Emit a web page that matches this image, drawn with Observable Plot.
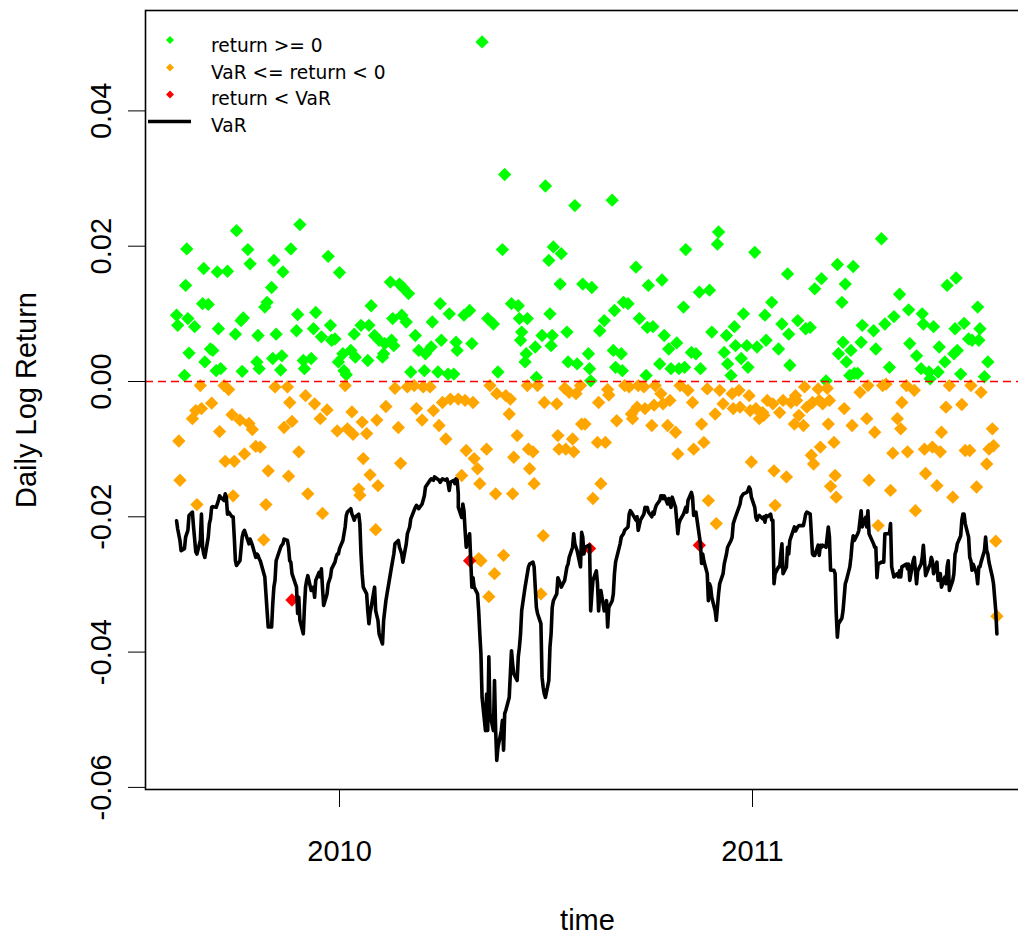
<!DOCTYPE html>
<html><head><meta charset="utf-8">
<script src="https://cdn.jsdelivr.net/npm/d3@7"></script>
<script src="https://cdn.jsdelivr.net/npm/@observablehq/plot@0.6"></script>
<style>html,body{margin:0;padding:0;background:#fff;overflow:hidden;} #chart svg{max-width:none !important;height:934px !important;width:1040px !important;display:block;}</style>
</head><body><div id="chart"></div>
<script>
// ---------- data ----------
const firstDay = "2009-08-10", lastDay = "2011-08-05";
const months = ["2009-08","2009-09","2009-10","2009-11","2009-12","2010-01","2010-02","2010-03","2010-04","2010-05","2010-06","2010-07","2010-08","2010-09","2010-10","2010-11","2010-12","2011-01","2011-02","2011-03","2011-04","2011-05","2011-06","2011-07","2011-08"];

// daily log returns (non-breach), in date order within each month
const returnsByMonth = [
 [.0098,.0083,-.0088,-.0146,.0009,.0142,.0196,.0093,.0042,-.0055,.0081,-.0043,-.0182,-.0006],
 [-.004,.0115,.0167,.0029,.0114,.0048,-.0032,.0046,.0016,.0162,.0078,-.0074,.0019,-.0006,-.0118,.0163,-.0012,-.0049,-.0169,-.0118],
 [.007,.0223,-.0057,.009,.0015,.0094,-.0107,.0195,-.0062,.0174,-.0071,-.0096,.0029,.0068,.0019,-.0097,-.0234,.011,-.0182,.0117,-.0132],
 [.0139,.0034,.0179,-.0008,.007,.0017,.0038,.0162,-.0068,-.0008,-.014,-.0031,.0196,-.0059,.0075,.0099,-.0104,.0232,.0031],
 [.0019,-.0021,-.0166,.0034,.0078,-.0033,.0102,-.0055,.0066,-.0195,-.0042,.0185,.0083,.0061,.0063,-.0073,.0029],
 [.0161,.0041,.0016,-.0006,.001,-.007,.0046,-.0045,-.0078,.007,.0036,-.0159,-.0168,.0083,-.006,-.0114,-.0077,.0031,.0083,-.0138,.0112],
 [.0068,-.0219,-.0057,-.0154,.0061,.0036,.0041,.0056,-.0037,.0147,.0061,.0093,.0053,-.001,-.0068,.0144,-.0121,.0098,.0139],
 [.0088,-.0008,.013,.0014,-.0006,.0068,-.004,.0046,-.0057,-.0008,.0016,.0041,-.0008,.0051,.0088,-.0043,.0014,-.0065,.0115],
 [.0061,-.0031,-.0085,.0011,.01,-.0026,.0011,.0058,.0046,-.0026,-.0139,.0098,-.0028,-.0102,.0105,.0056,-.0031,-.0114],
 [-.0129,-.0262,-.0151,-.0265,.0502,-.01,.0093,-.0318,-.0006,.0085,-.0284,-.0166,-.0018,.0014,.0195,-.0257,.0306,-.0021,-.0048],
 [-.0026,.0115,-.0166,-.0112,-.008,.0112,.0093,.0061,.0073,.0029,.0041,-.0006,.0093,-.01,-.0129,-.0104,-.0151,.0051,.0006,-.0006,-.0314,.0068,-.0228],
 [-.0031,.0289,.0179,.01,.0053,.0068,.0199,-.0033,-.008,-.01,.0144,.0189,-.001,-.01,.0073,.0029,-.0016,-.0085,-.0104,.026,-.0018,.0026],
 [-.0006,-.0063,.0144,-.0063,.0041,.0019,.0001,.0139,-.0173,-.009,-.0031,.0075,-.0151,.009,-.009,-.0012,-.002,.0268,.0046],
 [.0105,.0021,-.0058,.0041,.0016,.0117,-.0006,.0115,-.0008,-.0048,-.0055,.0169,-.0038,-.0006,.0093,-.0008,-.004,.0009,.008],
 [.0142,-.0065,.0081,-.0035,-.0006,.0026,-.0018,.015,-.0033,.0068,-.0065,.0048,-.0028,.0019,-.0075,.0057,-.0107,.0019,-.0006],
 [.011,.0021,.0195,-.0013,.0043,-.0031,-.01,.0041,.0132,.0019,-.0063,-.009,-.0011,-.0176,.0135,.0073,-.0048,-.021],
 [.0203,.0221,-.0013,-.0033,.0043,.0068,.0026,.0009,-.0018,-.004,.0081,.0053,-.0013,-.0038,.0034,.01,.0053,.0021,-.0021,-.0043,-.0119],
 [.0191,-.004,.0051,-.0055,-.0046,-.005,.0098,.0061,-.0028,.0117,-.0033,-.0132,-.0183,.0048,-.0046,.0085,-.0028,-.0141],
 [.0159,.007,.0024,-.0031,-.0063,-.0021,-.0028,.009,-.005,-.0065,-.0008,.0078,-.0038,.008,-.0109,-.0031,-.0122,.0137,-.0011],
 [-.0028,-.0097,.0152,-.0033,.0001,-.001,-.0063,-.0028,-.0155,-.009,-.0139,-.0171,.0173,.0041,.0117,.0058,-.004,.0144,.0029,.0009,.0046,-.0065,.017],
 [.0012,.0012,-.0016,.0058,.0083,-.0055,-.0006,-.0146,.0075,-.0075,.0048,-.0213,.0211,-.0006,.0085,-.0004],
 [.0021,-.0161,-.0106,.0096,-.0055,.0129,-.007,-.0031,-.0006,-.0104,.0106,.0056,-.0013,-.0191,.0038,.0019,.01],
 [.0085,-.01,-.0136,.0014,.0004,-.0097,.0081,-.0154,.0014,.0051,-.0104,-.0075,.0029,-.0038,.0142,-.0006,-.0171,.0041,.0078,.0153],
 [.0046,.0011,-.0034,.0086,-.0102,.0063,-.0102,-.0006,.0061,-.0156,.011,.0061,.0078,-.0016,.0007,-.0122,.0029,-.01],
 [-.007,-.0095,-.0236,-.0347]
];

// Value-at-Risk line, in date order within each month
const varByMonth = [
 [-.0206,-.0218,-.0235,-.025,-.0247,-.023,-.022,-.0198,-.0193,-.0215,-.0252,-.0255,-.0235],
 [-.0196,-.0245,-.0255,-.026,-.023,-.021,-.0203,-.0186,-.0185,-.0186,-.0176,-.0169,-.0171,-.0176,-.0166,-.0171,-.0196,-.0193,-.02,-.02,-.023],
 [-.0265,-.0272,-.0265,-.023,-.0223,-.022,-.0235,-.024,-.0233,-.0242,-.026,-.0255,-.0257,-.0262,-.0265,-.0289,-.0314,-.0339,-.0363],
 [-.0363,-.0329,-.0304,-.0294,-.0265,-.0245,-.0242,-.024,-.0233,-.0235,-.0245,-.0265,-.0267,-.0284,-.0304,-.0343,-.0319,-.0353,-.0373],
 [-.0334,-.0304,-.0294,-.0287,-.0309,-.0304,-.0319,-.0294,-.0282,-.0289,-.0277,-.0306,-.0331,-.0314,-.0299,-.0289,-.0277,-.0267,-.026,-.0255,-.0255],
 [-.0247,-.0235,-.0225,-.0215,-.0198,-.0193,-.0188,-.0196,-.02,-.0205,-.02,-.0196,-.021,-.0255,-.0284,-.0304,-.0314,-.0339,-.0358,-.0343,-.0334],
 [-.0304,-.0339,-.0353,-.0373,-.0388,-.0353,-.0324,-.0314,-.0284,-.0274,-.0255,-.024,-.0235,-.0245,-.0255,-.0267],
 [-.024,-.0225,-.0215,-.0203,-.0186,-.0183,-.0188,-.0181,-.0169,-.0156,-.0146,-.0144,-.0146,-.0141,-.0146,-.0149],
 [-.0146,-.0144,-.0146,-.0144,-.0151,-.0161,-.0149,-.0146,-.0151,-.0144,-.0146,-.0166,-.0186,-.0201,-.0181,-.0191,-.022,-.0245,-.0225,-.0265,-.0304,-.029,-.0304],
 [-.0314,-.0339,-.0373,-.0403,-.0467,-.0516,-.0462,-.0516,-.0407,-.0491,-.0516,-.0442,-.0516,-.056,-.0541,-.0516,-.0501,-.0545,-.0491,-.0486,-.0467],
 [-.0432,-.0398,-.0417,-.0432,-.0442,-.0407,-.0393,-.0373,-.0339,-.0304,-.0284,-.0274,-.027,-.0267,-.0274,-.0304,-.0334,-.0343,-.0358,-.0437,-.0452],
 [-.0462,-.0467,-.0442,-.0393,-.0373,-.0334,-.0324,-.0314,-.029,-.0294,-.0304,-.0294,-.0284,-.0274,-.027,-.026,-.0245,-.0225,-.024,-.0245,-.025],
 [-.0274,-.0223,-.023,-.0255,-.0245,-.0242,-.0339,-.0314,-.0294,-.028,-.0299,-.0339,-.0314,-.0309,-.0339,-.0324,-.0363,-.0334,-.0324,-.0314],
 [-.0284,-.0267,-.026,-.024,-.023,-.0225,-.022,-.0215,-.0196,-.0191,-.0193,-.0196,-.0205,-.02,-.022,-.0205,-.0196,-.0186,-.0188,-.0186],
 [-.0193,-.02,-.0193,-.0196,-.0188,-.0183,-.0176,-.0169,-.0169,-.0173,-.0169,-.0181,-.0173,-.0181,-.0186,-.0171,-.0186,-.0205,-.0225,-.021,-.0205],
 [-.0196,-.0191,-.0186,-.0193,-.0176,-.0164,-.0171,-.0198,-.0196,-.0193,-.024,-.0269,-.0255,-.0265,-.0284,-.0324,-.0299,-.0304,-.0319,-.0339,-.0353],
 [-.0334,-.0314,-.0299,-.0284,-.027,-.0255,-.0245,-.0235,-.023,-.021,-.0205,-.02,-.0186,-.0181,-.0171,-.0166,-.0164,-.0161,-.0156,-.0159,-.0171],
 [-.0186,-.0201,-.0205,-.02,-.0198,-.0203,-.02,-.0208,-.0198,-.02,-.0196,-.0205,-.0205,-.0299,-.0284,-.0274,-.0274,-.0255,-.024,-.0284,-.0274],
 [-.0245,-.0255,-.0235,-.023,-.0215,-.0221,-.0218,-.0215,-.0213,-.0213,-.0205,-.0196,-.0193,-.0196,-.0225,-.0255,-.0257,-.0257,-.0242],
 [-.0257,-.0242,-.0245,-.0242,-.0245,-.0215,-.023,-.0279,-.0279,-.0284,-.0343,-.0378,-.0358,-.035,-.0339,-.0299,-.0294,-.0274,-.026,-.024,-.0228],
 [-.0235,-.0225,-.022,-.0191,-.0215,-.0201,-.0215,-.0191,-.0225,-.024,-.0245,-.0245,-.029,-.027,-.0267,-.0267,-.0225,-.0225],
 [-.0225,-.021,-.0274,-.0289,-.0284,-.0289,-.028,-.0289,-.0274,-.027,-.0277,-.027,-.0294,-.0265,-.026,-.0299,-.028,-.027,-.026],
 [-.0242,-.0265,-.0287,-.0274,-.027,-.026,-.0265,-.0284,-.0267,-.0294,-.0284,-.0304,-.0289,-.0299,-.0274,-.0265,-.0309,-.0294,-.0284,-.0255,-.025],
 [-.024,-.0228,-.0205,-.0196,-.0196,-.021,-.023,-.026,-.0265,-.0279,-.027,-.0284,-.0299,-.0274,-.0274,-.0267,-.025,-.023,-.025,-.0255,-.0267],
 [-.0289,-.0299,-.0339,-.0373]
];

// returns below VaR
const breachDates = ["2009-11-20","2010-04-26","2010-08-10","2010-11-15"];
const breachValues = [-.0323,-.0265,-.0247,-.0242];

const yTicks = [-0.06,-0.04,-0.02,0,0.02,0.04];
const xTickYears = [2010, 2011];
const legendLabels = ["return >= 0","VaR <= return < 0","return < VaR","VaR"];
const colGreen = "#00FF00", colOrange = "#FFA500", colRed = "#FF0000";

// ---------- build tables ----------
const DAY = 864e5;
const t0 = Date.parse(firstDay + "T00:00:00Z"), t1 = Date.parse(lastDay + "T00:00:00Z");
const daysByMonth = new Map();
for (let t = t0; t <= t1; t += DAY) {
  const d = new Date(t), w = d.getUTCDay();
  if (w === 0 || w === 6) continue;
  const k = d.toISOString().slice(0, 7);
  if (!daysByMonth.has(k)) daysByMonth.set(k, []);
  daysByMonth.get(k).push(d);
}
function place(month, values) {
  const days = daysByMonth.get(month), m = days.length, n = values.length;
  return values.map((v, i) => ({date: days[n < 2 ? 0 : Math.round(i * (m - 1) / (n - 1))], value: v}));
}
const returns = months.flatMap((mo, i) => place(mo, returnsByMonth[i]));
const varSeries = months.flatMap((mo, i) => place(mo, varByMonth[i]));
const breaches = breachDates.map((d, i) => ({date: new Date(d + "T00:00:00Z"), value: breachValues[i]}));
const xTicks = xTickYears.map(y => new Date(Date.UTC(y, 0, 1)));

// ---------- layout ----------
const W = 1040, H = 934, ML = 145, MR = 11, MT = 10, MB = 145;
const pxPerDay = 413 / 365;
const x0 = new Date(Date.UTC(2010, 0, 1) - (339 - ML) / pxPerDay * DAY);
const x1 = new Date(Date.UTC(2010, 0, 1) + (W - MR - 339) / pxPerDay * DAY);
const perUnit = 135.3 / 0.02;
const yDomain = [-(789 - 381) / perUnit, (381 - MT) / perUnit];

const legend = (index, scales, values, dim) => {
  const g = d3.create("svg:g")
    .attr("font-family", "'DejaVu Sans', sans-serif").attr("font-size", 18.6)
    .attr("fill", "black").attr("text-anchor", "start");
  const rows = [
    {c: colGreen, cy: 40, by: 52},
    {c: colOrange, cy: 67.5, by: 78.5},
    {c: colRed, cy: 94.5, by: 105},
  ];
  const s = 4;
  rows.forEach((r, i) => {
    g.append("path").attr("d", `M170,${r.cy - s}L${170 + s},${r.cy}L170,${r.cy + s}L${170 - s},${r.cy}Z`).attr("fill", r.c);
    g.append("text").attr("x", 211).attr("y", r.by).text(legendLabels[i]);
  });
  g.append("line").attr("x1", 148).attr("x2", 191).attr("y1", 121.5).attr("y2", 121.5).attr("stroke", "black").attr("stroke-width", 3.6);
  g.append("text").attr("x", 211).attr("y", 131.5).text(legendLabels[3]);
  return g.node();
};

const chart = Plot.plot({
  width: W, height: H,
  marginLeft: ML, marginRight: MR, marginTop: MT, marginBottom: MB,
  style: {fontFamily: "'Liberation Sans', Arial, sans-serif", background: "white", color: "black", overflow: "visible", maxWidth: "none"},
  x: {type: "utc", domain: [x0, x1], ticks: xTicks, tickSize: 18, tickFormat: () => "", label: null},
  y: {domain: yDomain, ticks: yTicks, tickSize: 17, tickFormat: () => "", label: null},
  marks: [
    Plot.dot(returns.filter(d => d.value >= 0), {x: "date", y: "value", symbol: "diamond2", r: 6, fill: colGreen}),
    Plot.dot(returns.filter(d => d.value < 0), {x: "date", y: "value", symbol: "diamond2", r: 6, fill: colOrange}),
    Plot.dot(breaches, {x: "date", y: "value", symbol: "diamond2", r: 6, fill: colRed}),
    Plot.line(varSeries, {x: "date", y: "value", stroke: "black", strokeWidth: 3.6}),
    Plot.ruleY([0], {stroke: colRed, strokeWidth: 1.6, strokeDasharray: "8,5"}),
    Plot.frame({stroke: "black", strokeWidth: 1.6}),
    Plot.text(yTicks, {y: d => d, text: d => d.toFixed(2), frameAnchor: "left", dx: -35, rotate: -90, lineAnchor: "bottom", textAnchor: "middle", fontSize: 29, fill: "black"}),
    Plot.text(["Daily Log Return"], {frameAnchor: "left", dx: -110, rotate: -90, lineAnchor: "bottom", textAnchor: "middle", fontSize: 29, fill: "black"}),
    Plot.text(xTicks, {x: d => d, text: d => String(d.getUTCFullYear()), frameAnchor: "bottom", dy: 71, lineAnchor: "bottom", fontSize: 29, fill: "black"}),
    Plot.text(["time"], {frameAnchor: "bottom", dy: 140, lineAnchor: "bottom", fontSize: 29, fill: "black"}),
    legend
  ]
});
document.getElementById("chart").appendChild(chart);
</script>
</body></html>
